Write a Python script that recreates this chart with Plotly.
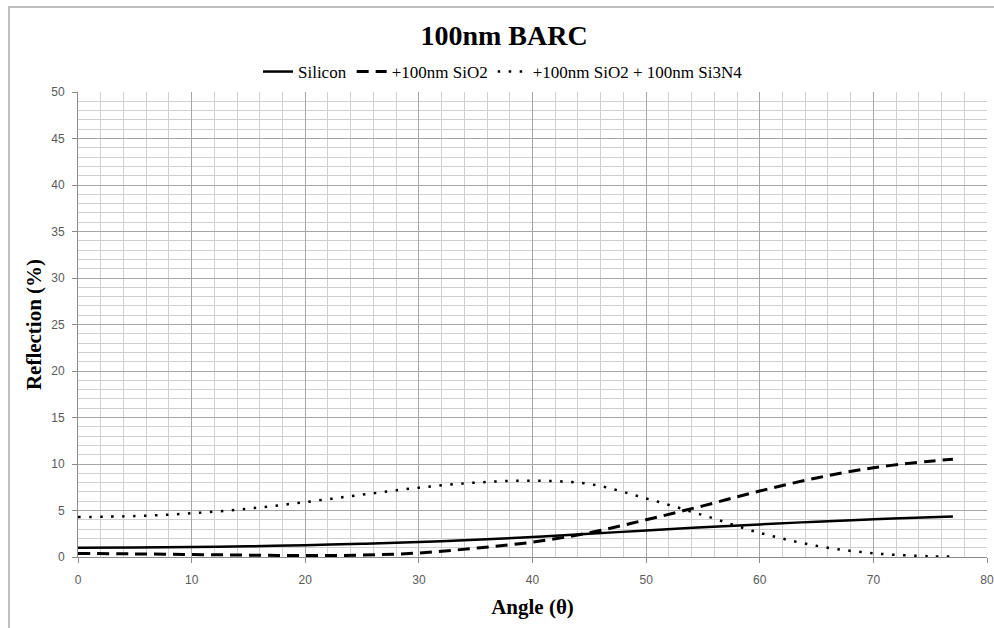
import plotly.graph_objects as go

angles = [0, 5, 10, 15, 20, 25, 30, 35, 40, 45, 50, 55, 60, 65, 70, 75, 77]
silicon = [1.0, 1.02, 1.07, 1.15, 1.27, 1.42, 1.6, 1.85, 2.15, 2.5, 2.85, 3.2, 3.5, 3.8, 4.05, 4.28, 4.35]
sio2 = [0.38, 0.33, 0.27, 0.2, 0.15, 0.2, 0.43, 0.95, 1.6, 2.6, 4.0, 5.5, 7.1, 8.5, 9.6, 10.3, 10.5]
sio2_si3n4 = [4.3, 4.4, 4.7, 5.2, 5.9, 6.7, 7.45, 8.0, 8.2, 7.85, 6.3, 4.5, 2.6, 1.2, 0.4, 0.08, 0.05]

names = ["Silicon", "+100nm SiO2", "+100nm SiO2 + 100nm Si3N4"]

fig = go.Figure()
fig.add_trace(go.Scatter(x=angles, y=silicon, name=names[0], mode="lines",
                         line=dict(color="black", width=2.5, shape="spline")))
fig.add_trace(go.Scatter(x=angles, y=sio2, name=names[1], mode="lines",
                         line=dict(color="black", width=3, dash="12px,7px", shape="spline")))
fig.add_trace(go.Scatter(x=angles, y=sio2_si3n4, name=names[2], mode="lines",
                         line=dict(color="black", width=2.5, dash="2.5px,8.5px", shape="spline")))

W, H = 994, 628
L, T = 78, 92
R = W - 987
B = H - 557
pw, ph = W - L - R, H - T - B

def px(xp):
    return (xp - L) / pw

def py(yp):
    return (H - B - yp) / ph

serif = "Liberation Serif"
tickfont = dict(family="Liberation Sans", size=12, color="#595959")

fig.update_layout(
    width=W, height=H,
    margin=dict(l=L, r=R, t=T, b=B, autoexpand=False),
    paper_bgcolor="white", plot_bgcolor="white",
    title=dict(text="<b>100nm BARC</b>", x=504 / W, xanchor="center", xref="container",
               y=1 - 35 / H, yanchor="middle", yref="container",
               font=dict(family=serif, size=28, color="black")),
    legend=dict(orientation="h", x=px(258), xanchor="left", y=py(72), yanchor="middle",
                font=dict(family=serif, size=17, color="black"),
                bgcolor="rgba(0,0,0,0)", itemwidth=30, tracegroupgap=0),
    showlegend=True,
    xaxis=dict(range=[0, 80], dtick=10, tick0=0, automargin=False,
               showgrid=True, gridcolor="#a6a6a6", gridwidth=1,
               minor=dict(dtick=2, showgrid=True, gridcolor="#d0d0d0", gridwidth=1),
               ticks="outside", ticklen=5, tickcolor="#8c8c8c",
               showline=True, linecolor="#8c8c8c", linewidth=1,
               zeroline=False, tickfont=tickfont, ticklabelstandoff=7,
               title=dict(text="<b>Angle (θ)</b>", standoff=12,
                          font=dict(family=serif, size=21, color="black"))),
    yaxis=dict(range=[0, 50], dtick=5, tick0=0, automargin=False,
               showgrid=True, gridcolor="#a6a6a6", gridwidth=1,
               minor=dict(dtick=1, showgrid=True, gridcolor="#d0d0d0", gridwidth=1),
               ticks="outside", ticklen=5, tickcolor="#8c8c8c",
               showline=True, linecolor="#8c8c8c", linewidth=1,
               zeroline=False, tickfont=tickfont, ticklabelstandoff=5,
               title=dict(text="<b>Reflection (%)</b>", standoff=3,
                          font=dict(family=serif, size=21, color="black"))),
    shapes=[dict(type="rect", xref="paper", yref="paper",
                 x0=px(9), x1=px(1004), y0=py(640), y1=py(7),
                 line=dict(color="#bdbdbd", width=2), fillcolor="rgba(0,0,0,0)",
                 layer="below")],
)

fig.write_html(
    "out.html",
    config={"displayModeBar": False},
    post_script="document.body.style.margin='0';document.body.style.overflow='hidden';",
)
